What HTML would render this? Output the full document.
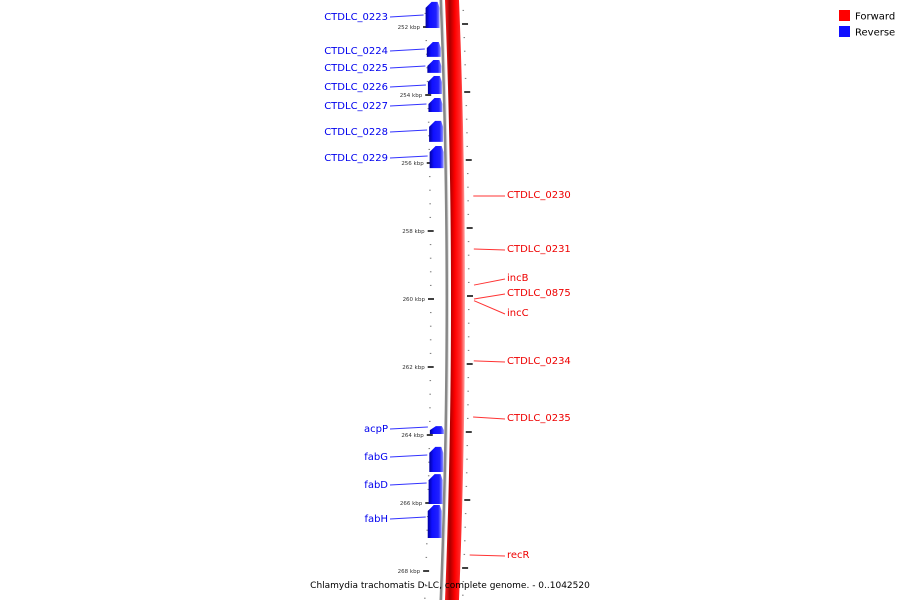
<!DOCTYPE html>
<html><head><meta charset="utf-8">
<style>
html,body{margin:0;padding:0;background:#fff;}
svg{display:block;font-family:"DejaVu Sans","Liberation Sans",sans-serif;}
</style></head>
<body>
<svg id="chart" width="900" height="600" viewBox="0 0 900 600">
  <defs>
    <linearGradient id="redg" x1="0" x2="1" y1="0" y2="0">
      <stop offset="0" stop-color="#ff2020"/>
      <stop offset="0.25" stop-color="#aa0000"/>
      <stop offset="0.5" stop-color="#ff0000"/>
      <stop offset="0.8" stop-color="#ff3030"/>
      <stop offset="1" stop-color="#ffb0b0"/>
    </linearGradient>
    <linearGradient id="blueg" x1="0" x2="1" y1="0" y2="0">
      <stop offset="0" stop-color="#0000a0"/>
      <stop offset="0.3" stop-color="#1010ff"/>
      <stop offset="0.75" stop-color="#2020ff"/>
      <stop offset="1" stop-color="#9090ff"/>
    </linearGradient>
  </defs>
  <g id="layer"></g>
  <g>
    <rect x="839" y="10" width="11" height="11" fill="#ff0000"/>
    <text x="855" y="19.5" font-size="10" fill="#000">Forward</text>
    <rect x="839" y="26" width="11" height="11" fill="#1010ff"/>
    <text x="855" y="35.5" font-size="10" fill="#000">Reverse</text>
  </g>
  <text x="450" y="588" font-size="9" text-anchor="middle" fill="#000">Chlamydia trachomatis D-LC, complete genome. - 0..1042520</text>
</svg>
<script>
// data (kbp)
const reverseNames = ["CTDLC_0223","CTDLC_0224","CTDLC_0225","CTDLC_0226","CTDLC_0227","CTDLC_0228","CTDLC_0229","acpP","fabG","fabD","fabH"];
const reverseStart = [251.26,252.44,252.97,253.44,254.09,254.76,255.50,263.74,264.35,265.15,266.06];
const reverseEnd   = [252.03,252.88,253.35,253.97,254.50,255.38,256.15,263.97,265.09,266.03,267.03];
const reverseLabelY = [16,50,67,86,105,131,157,428,456,484,518];
const forwardNames = ["CTDLC_0230","CTDLC_0231","incB","CTDLC_0875","incC","CTDLC_0234","CTDLC_0235","recR"];
const forwardPos   = [256.97,258.53,259.59,260.0,260.05,261.82,263.47,267.53];
const forwardLabelY = [194,248,277,292,312,360,417,554];
const majorTicks = [252,254,256,258,260,262,264,266,268];
const tickLabels = ["252 kbp","254 kbp","256 kbp","258 kbp","260 kbp","262 kbp","264 kbp","266 kbp","268 kbp"];

const NS="http://www.w3.org/2000/svg";
const layer=document.getElementById('layer');
function yS(k){return 27+(k-252)*34;}
function cx(y){const t=(y-300)/300;return 448-6*t*t;}
function mk(tag,attrs){const e=document.createElementNS(NS,tag);for(const k in attrs)e.setAttribute(k,attrs[k]);layer.appendChild(e);return e;}

// backbone & red band
let pts=[],lft=[],rgt=[];
for(let y=-5;y<=605;y+=5){pts.push((cx(y)-1)+','+y);lft.push([cx(y)+3,y]);rgt.push([cx(y)+17,y]);}
let bb=mk('polyline',{points:pts.join(' '),fill:'none',stroke:'#888',"stroke-width":3});


let bb2=mk('polyline',{points:pts.map(p=>{const [a,b]=p.split(',');return (+a+1.5)+','+b}).join(' '),fill:'none',stroke:'#ddd',"stroke-width":1});


let band=mk('polygon',{points:lft.map(p=>p.join(',')).concat(rgt.reverse().map(p=>p.join(','))).join(' '),fill:'url(#redg)'});



// ticks
for(let i=0;i<=95;i++){
  const k=250+i*0.2;
  const y=yS(k); if(y<0||y>600)continue;
  const isMaj=(i%10===0);
  const xl=cx(y)-20, xr=cx(y)+19;
  if(isMaj){
    let t=mk('line',{x1:xl,x2:xl+6,y1:y,y2:y,stroke:'#000',"stroke-width":1.5});
    
    let t2=mk('line',{x1:xr,x2:xr+6,y1:y-3,y2:y-3,stroke:'#000',"stroke-width":1.5});
    
  } else if(i%2===0){
    let d=mk('rect',{x:xl+2,y:y-0.5,width:1.5,height:1,fill:'#777'});
    
    let d2=mk('rect',{x:xr+1,y:y-3.5,width:1.5,height:1,fill:'#777'});
    
  }
}
majorTicks.forEach((k,i)=>{
  const y=yS(k);
  let t=mk('text',{x:cx(y)-23,y:y+2,"font-size":5.5,"text-anchor":"end",fill:'#333'});
  t.textContent=tickLabels[i];
  
  
});

// reverse genes
reverseNames.forEach((n,i)=>{
  const y1=yS(reverseStart[i]),y2=yS(reverseEnd[i]);
  const xr=cx((y1+y2)/2)-3,xl=xr-14,head=Math.min(6,(y2-y1)/2);
  let g=mk('polygon',{points:`${xl},${y2} ${xl},${y1+head} ${xl+6},${y1} ${xr-2},${y1} ${xr},${y1+head} ${xr},${y2}`,fill:'url(#blueg)'});
  
  
  const ly=reverseLabelY[i];
  let l=mk('line',{x1:390,y1:ly+1,x2:xl-2,y2:ly-1,stroke:'#3333ff',"stroke-width":1});
  
  
  let t=mk('text',{x:388,y:ly+4,"font-size":10,"text-anchor":"end",fill:'#0000ee'});
  t.textContent=n;
  
  
});

// forward labels
forwardNames.forEach((n,i)=>{
  const y=yS(forwardPos[i]);const ly=forwardLabelY[i];
  let l=mk('line',{x1:cx(y)+26,y1:y,x2:505,y2:ly+2,stroke:'#ff3333',"stroke-width":1});
  
  
  let t=mk('text',{x:507,y:ly+4,"font-size":10,fill:'#ee0000'});
  t.textContent=n;
  
  
});
</script>
</body></html>
